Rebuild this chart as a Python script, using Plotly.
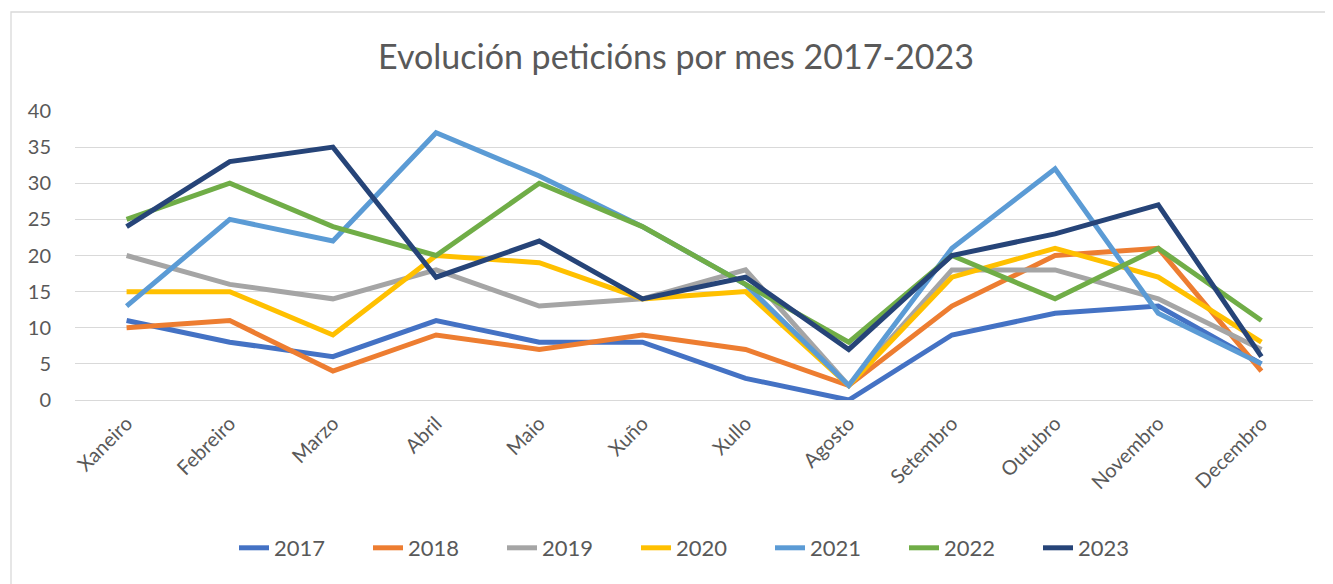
import plotly.graph_objects as go

months = ["Xaneiro", "Febreiro", "Marzo", "Abril", "Maio", "Xuño", "Xullo",
          "Agosto", "Setembro", "Outubro", "Novembro", "Decembro"]

y2017 = [11, 8, 6, 11, 8, 8, 3, 0, 9, 12, 13, 5]
y2018 = [10, 11, 4, 9, 7, 9, 7, 2, 13, 20, 21, 4]
y2019 = [20, 16, 14, 18, 13, 14, 18, 2, 18, 18, 14, 7]
y2020 = [15, 15, 9, 20, 19, 14, 15, 2, 17, 21, 17, 8]
y2021 = [13, 25, 22, 37, 31, 24, 16, 2, 21, 32, 12, 5]
y2022 = [25, 30, 24, 20, 30, 24, 16, 8, 20, 14, 21, 11]
y2023 = [24, 33, 35, 17, 22, 14, 17, 7, 20, 23, 27, 6]

series_names = ["2017", "2018", "2019", "2020", "2021", "2022", "2023"]
series_values = [y2017, y2018, y2019, y2020, y2021, y2022, y2023]
colors = ["#4472C4", "#ED7D31", "#A5A5A5", "#FFC000", "#5B9BD5", "#70AD47", "#264478"]

FONT = "Lato"
TXT = "#595959"

fig = go.Figure()
for name, vals, col in zip(series_names, series_values, colors):
    fig.add_trace(go.Scatter(
        x=list(range(len(months))), y=vals, name=name, mode="lines",
        line=dict(color=col, width=5, shape="linear"),
    ))

# page body has an 8px margin: work in screen px and shift
OFF = 8
W, H = 1325, 576
L, R, T, B = 75 - OFF, W - (1313 - OFF), 111 - OFF, H - (400 - OFF)
pw, ph = W - L - R, H - T - B

def px_x(p):
    return (p - OFF - L) / pw

def px_y(p):
    return (H - B - (p - OFF)) / ph

fig.update_layout(
    width=W, height=H,
    margin=dict(l=L, r=R, t=T, b=B, autoexpand=False),
    paper_bgcolor="white", plot_bgcolor="white",
    font=dict(family=FONT, color=TXT, size=20),
    title=dict(text="Evolución peticións por mes 2017-2023",
               x=(676 - OFF) / W, xanchor="center", y=1 - (57 - OFF) / H, yanchor="middle",
               font=dict(size=34, color=TXT, family=FONT)),
    xaxis=dict(
        range=[-0.5, 11.5], tickmode="array",
        tickvals=list(range(len(months))), ticktext=months,
        tickangle=-45, showgrid=False, zeroline=False,
        showline=False, ticks="outside", ticklen=3, tickcolor="rgba(0,0,0,0)",
        tickfont=dict(size=20, color=TXT),
        fixedrange=True,
    ),
    yaxis=dict(
        range=[0, 40], tickmode="linear", tick0=0, dtick=5,
        showgrid=True, gridcolor="#D9D9D9", gridwidth=1.3,
        zeroline=True, zerolinecolor="#D9D9D9", zerolinewidth=1.3,
        showline=False, ticks="outside", ticklen=19, tickcolor="rgba(0,0,0,0)",
        tickfont=dict(size=20, color=TXT), fixedrange=True,
    ),
    showlegend=True,
    legend=dict(
        orientation="h", x=px_x(234), xanchor="left",
        y=px_y(548), yanchor="middle",
        font=dict(size=22, color=TXT, family=FONT),
        itemwidth=30, entrywidth=89, entrywidthmode="pixels",
        bgcolor="rgba(0,0,0,0)",
    ),
    shapes=[dict(
        type="rect", xref="paper", yref="paper",
        x0=px_x(11), x1=px_x(1327), y0=px_y(600), y1=px_y(12),
        line=dict(color="#D9D9D9", width=1.3), fillcolor="rgba(0,0,0,0)",
        layer="below",
    )],
)

fig.write_html("out.html")
